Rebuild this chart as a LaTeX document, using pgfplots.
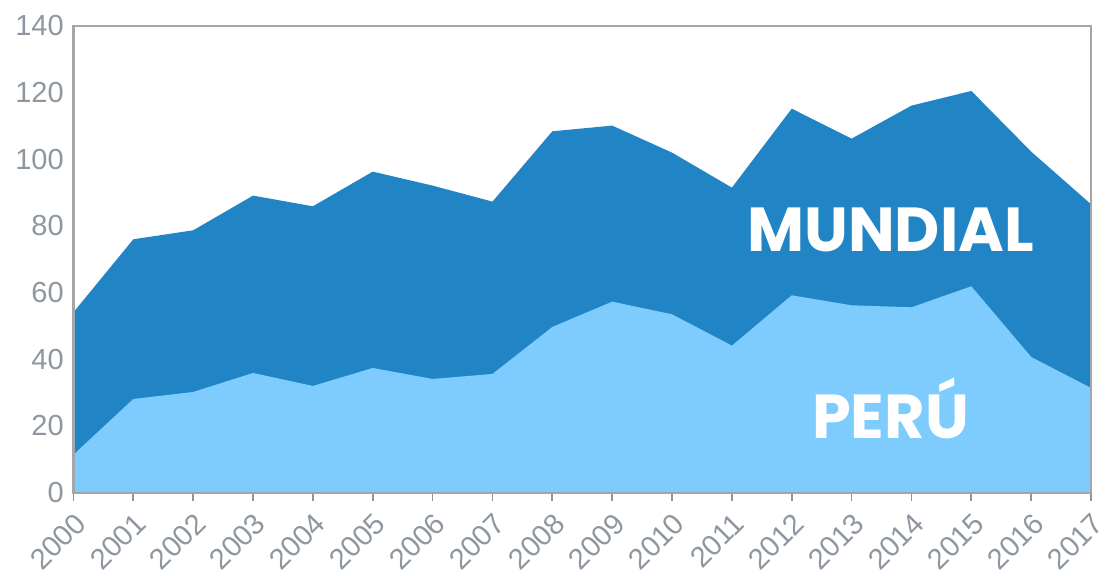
\documentclass[border=0pt]{standalone}
\usepackage{pgfplots}
\pgfplotsset{compat=1.18}
\usepackage{fontspec}
\setmainfont{Liberation Sans}
\newfontfamily\labfont{Poppins}
\definecolor{mund}{HTML}{2185C5}
\definecolor{peru}{HTML}{7DCCFD}
\definecolor{tickgray}{HTML}{8E979F}
\definecolor{framegray}{HTML}{A4A7AA}
\definecolor{baseblue}{HTML}{6FA9D2}
\begin{document}
\begin{tikzpicture}
\begin{axis}[
  scale only axis,
  width=368.5pt, height=169pt,
  xmin=2000, xmax=2017, ymin=0, ymax=140,
  xtick={2000,...,2017},
  ytick={0,20,...,140},
  /pgf/number format/1000 sep={},
  /pgf/number format/assume math mode=true,
  tick label style={font=\fontsize{10.5}{12}\selectfont, text=tickgray},
  xticklabel style={rotate=45, anchor=north east, inner sep=0pt},
  xticklabel shift=3.5pt,
  yticklabel style={xshift=3pt},
  axis line style={framegray, line width=0.8pt},
  tick pos=left,
  tick align=outside,
  major tick length=3pt,
  xtick style={tickgray, line width=0.6pt},
  ytick style={draw=none},
  clip=false,
  axis on top,
]
\addplot[fill=mund, draw=none] coordinates {
(2000,54.1) (2001,76) (2002,78.7) (2003,89.1) (2004,85.9) (2005,96.3)
(2006,92.1) (2007,87.3) (2008,108.4) (2009,110.1) (2010,102) (2011,91.5)
(2012,115.2) (2013,106.2) (2014,116.1) (2015,120.5) (2016,102.3) (2017,86.5)
} \closedcycle;
\addplot[fill=peru, draw=none] coordinates {
(2000,11.4) (2001,28.1) (2002,30.2) (2003,35.9) (2004,32) (2005,37.4)
(2006,34.1) (2007,35.6) (2008,49.7) (2009,57.3) (2010,53.5) (2011,44.1)
(2012,59.2) (2013,56.2) (2014,55.6) (2015,61.9) (2016,40.7) (2017,31.4)
} \closedcycle;
\draw[baseblue, line width=0.8pt] (axis cs:2000,0) -- (axis cs:2017,0);
\node[anchor=base, text=white, font=\labfont\bfseries\fontsize{22.5}{26}\selectfont] at (axis cs:2013.65,72.4) {MUNDIAL};
\node[anchor=base, text=white, font=\labfont\bfseries\fontsize{22.5}{26}\selectfont] at (axis cs:2013.65,16.2) {PERÚ};
\end{axis}
\pgfresetboundingbox
\path[use as bounding box] ([xshift=-26.6pt,yshift=-29.9pt]current axis.south west) rectangle ([xshift=6.5pt,yshift=9.4pt]current axis.north east);
\end{tikzpicture}
\end{document}
